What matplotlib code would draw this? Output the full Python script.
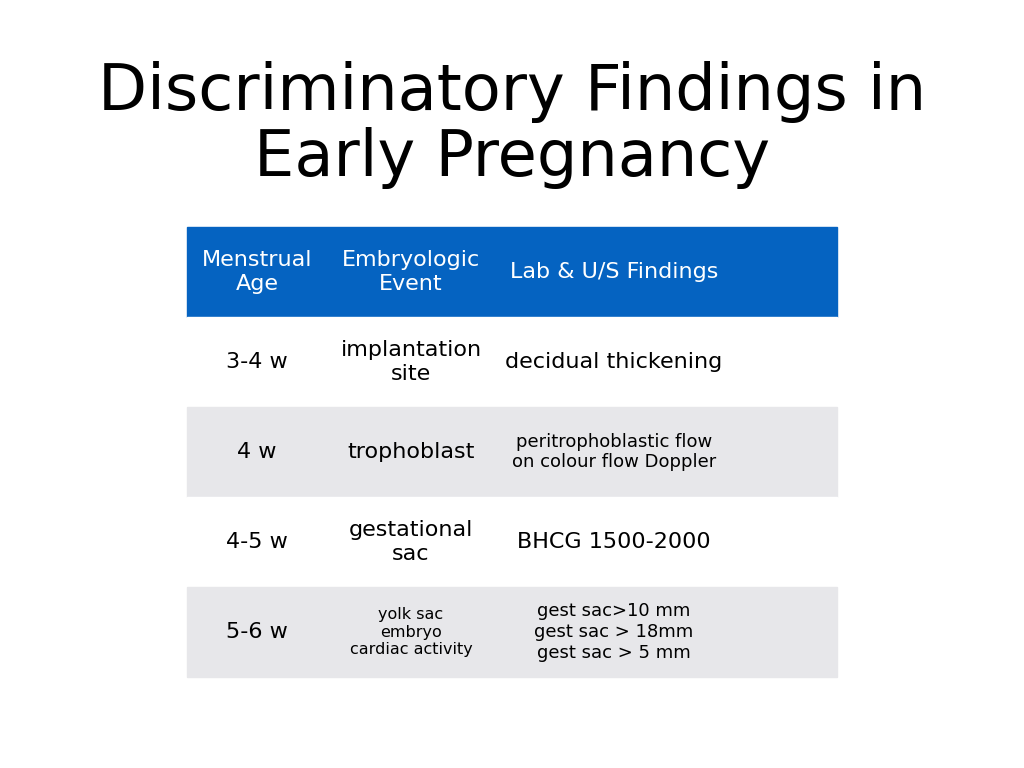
import matplotlib.pyplot as plt
from matplotlib.patches import Rectangle

title = "Discriminatory Findings in\nEarly Pregnancy"
headers = ["Menstrual\nAge", "Embryologic\nEvent", "Lab & U/S Findings"]
ages = ["3-4 w", "4 w", "4-5 w", "5-6 w"]
events = ["implantation\nsite", "trophoblast", "gestational\nsac", "yolk sac\nembryo\ncardiac activity"]
findings = ["decidual thickening", "peritrophoblastic flow\non colour flow Doppler",
            "BHCG 1500-2000", "gest sac>10 mm\ngest sac > 18mm\ngest sac > 5 mm"]
event_sizes = [16, 16, 16, 11.5]
finding_sizes = [16, 13, 16, 13]

fig = plt.figure(figsize=(10.24, 7.68), dpi=100)
ax = fig.add_axes([0, 0, 1, 1])
ax.set_xlim(0, 1024)
ax.set_ylim(768, 0)
ax.axis('off')

ax.text(512, 125, title, ha='center', va='center', fontsize=46, linespacing=1.1)

left, right, top, rh = 187, 837, 227, 90
col_x = [257, 411, 614]

ax.add_patch(Rectangle((left, top), right - left, rh, color='#0563C1'))
for cx, h in zip(col_x, headers):
    ax.text(cx, top + rh / 2, h, ha='center', va='center', fontsize=16, color='white')

for i in range(len(ages)):
    y0 = top + rh * (i + 1)
    ax.add_patch(Rectangle((left, y0), right - left, rh,
                           color='#E7E7EA' if i % 2 else 'white'))
    yc = y0 + rh / 2
    ax.text(col_x[0], yc, ages[i], ha='center', va='center', fontsize=16)
    ax.text(col_x[1], yc, events[i], ha='center', va='center', fontsize=event_sizes[i])
    ax.text(col_x[2], yc, findings[i], ha='center', va='center', fontsize=finding_sizes[i])

fig.savefig('out.png', dpi=100)
